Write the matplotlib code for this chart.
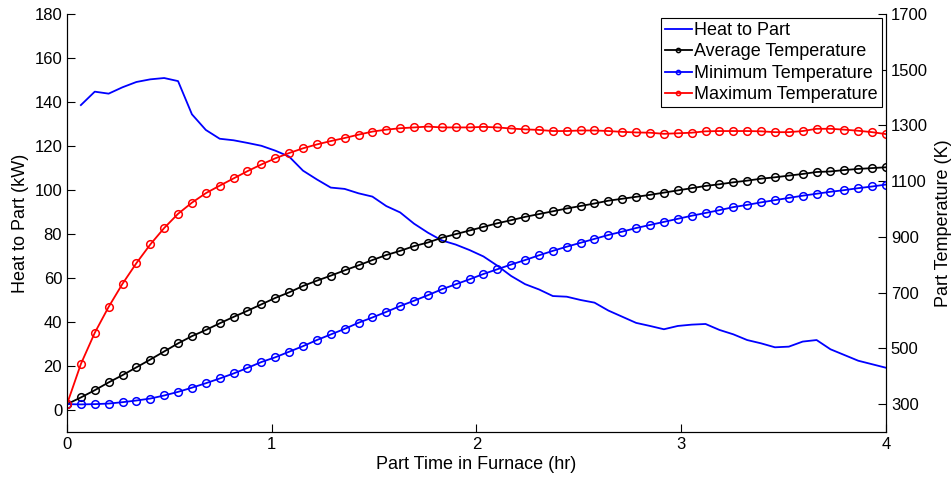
import numpy as np
from matplotlib import pyplot as plt

plt.rcParams['font.family'] = ['Liberation Sans', 'DejaVu Sans']
plt.rcParams['font.size'] = 12

# time grid shared by all series (hr)
time_hr = np.linspace(0, 4, 60)

# heat to part, kW (no value at t = 0)
heat_kw = [138.6, 144.7, 143.8, 146.7, 149.1, 150.3, 150.9, 149.5, 134.4, 127.3,
           123.3, 122.6, 121.4, 120.1, 117.9, 115.2, 108.8, 104.8, 101.1, 100.5,
           98.5, 97.0, 92.7, 89.8, 84.7, 80.6, 77.1, 75.2, 72.7, 69.8,
           65.6, 60.9, 57.2, 54.8, 51.8, 51.5, 50.0, 48.8, 45.2, 42.4,
           39.6, 38.2, 36.7, 38.2, 38.8, 39.1, 36.4, 34.4, 31.8, 30.3,
           28.5, 28.8, 31.1, 31.8, 27.6, 25.0, 22.4, 20.8, 19.2]

# part temperatures, K
temp_avg = [300, 324, 350, 378, 404, 432, 460, 489, 518, 544,
            566, 590, 613, 635, 658, 681, 701, 724, 743, 761,
            780, 798, 817, 835, 850, 867, 880, 897, 910, 923,
            936, 949, 960, 972, 982, 992, 1002, 1011, 1020, 1030,
            1037, 1044, 1051, 1059, 1067, 1075, 1083, 1089, 1096, 1102,
            1109, 1114, 1120, 1126, 1133, 1135, 1140, 1144, 1147, 1150]

temp_min = [300, 299, 300, 302, 307, 313, 320, 331, 344, 359,
            375, 392, 410, 430, 451, 468, 488, 508, 530, 550,
            570, 592, 611, 631, 652, 671, 691, 712, 730, 748,
            767, 784, 801, 817, 834, 850, 865, 879, 893, 907,
            919, 932, 943, 954, 965, 976, 986, 996, 1007, 1015,
            1024, 1032, 1040, 1048, 1055, 1062, 1068, 1075, 1081, 1088]

temp_max = [300, 444, 556, 649, 732, 806, 873, 932, 983, 1023,
            1057, 1084, 1110, 1136, 1160, 1182, 1201, 1218, 1232, 1244,
            1255, 1267, 1278, 1285, 1290, 1293, 1296, 1293, 1293, 1293,
            1295, 1293, 1289, 1286, 1284, 1280, 1280, 1282, 1282, 1280,
            1277, 1275, 1274, 1270, 1272, 1274, 1279, 1280, 1280, 1280,
            1279, 1276, 1276, 1280, 1288, 1288, 1285, 1281, 1276, 1269]


def style_axis(ax):
    ax.tick_params(direction='in', length=6, width=0.8, labelsize=12)
    for side in ax.spines:
        ax.spines[side].set_linewidth(0.8)
    ax.spines['top'].set_visible(False)


fig = plt.figure(figsize=(9.53, 4.8), dpi=100)
ax1 = fig.add_axes([67 / 953, 48 / 480, 819 / 953, 418 / 480])
ax2 = ax1.twinx()

h_heat, = ax1.plot(time_hr[1:], heat_kw, color='#0000ff', lw=1.3, label='Heat to Part')

marker_kw = dict(marker='o', markersize=5.5, markerfacecolor='none', markeredgewidth=1.1, lw=1.3)
h_avg, = ax2.plot(time_hr, temp_avg, color='black', label='Average Temperature', **marker_kw)
h_min, = ax2.plot(time_hr, temp_min, color='#0000ff', label='Minimum Temperature', **marker_kw)
h_max, = ax2.plot(time_hr, temp_max, color='#ff0000', label='Maximum Temperature', **marker_kw)

ax1.set_xlim(0, 4)
ax1.set_ylim(-10, 180)
ax1.set_xticks([0, 1, 2, 3, 4])
ax1.set_yticks(np.arange(0, 181, 20))
ax2.set_ylim(200, 1700)
ax2.set_yticks(np.arange(300, 1701, 200))

ax1.set_xlabel('Part Time in Furnace (hr)', fontsize=13, labelpad=3)
ax1.set_ylabel('Heat to Part (kW)', fontsize=13, labelpad=4)
ax2.set_ylabel('Part Temperature (K)', fontsize=13, labelpad=5)

style_axis(ax1)
style_axis(ax2)

leg = ax2.legend(handles=[h_heat, h_avg, h_min, h_max], loc='upper right',
                 bbox_to_anchor=(1.0, 1.0), borderaxespad=0.22, fancybox=False,
                 framealpha=1, edgecolor='black', fontsize=13, labelspacing=0.25,
                 handlelength=1.5, handletextpad=0.15, borderpad=0.22, markerscale=0.55)
leg.get_frame().set_linewidth(0.8)

fig.savefig('out.png', dpi=100)
